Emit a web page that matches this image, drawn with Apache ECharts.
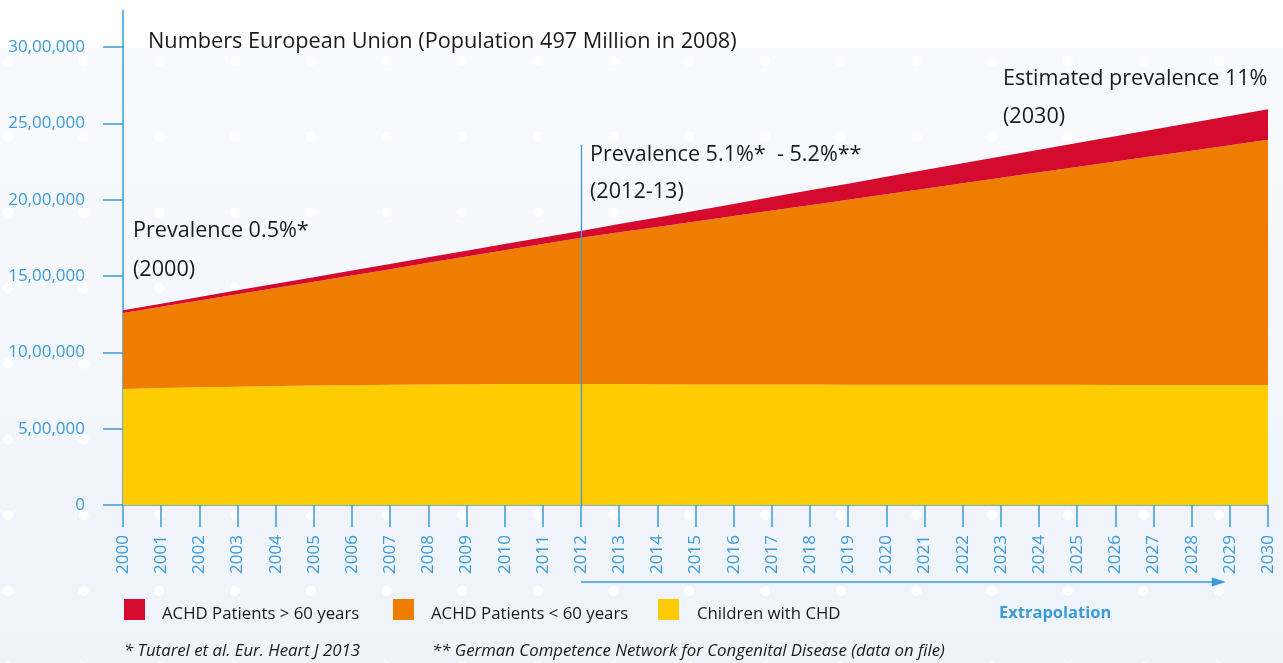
<!DOCTYPE html>
<html>
<head>
<meta charset="utf-8">
<script src="https://cdn.jsdelivr.net/npm/echarts@6/dist/echarts.min.js"></script>
<style>
html,body{margin:0;padding:0;background:#ffffff;}
#main{width:1283px;height:663px;}
</style>
</head>
<body>
<div id="main"></div>
<script>
// ---- Data ----
const years = ['2000','2001','2002','2003','2004','2005','2006','2007','2008','2009','2010',
  '2011','2012','2013','2014','2015','2016','2017','2018','2019','2020',
  '2021','2022','2023','2024','2025','2026','2027','2028','2029','2030'];

const childrenCHD = [760000,766000,771000,775000,779000,782000,785000,787000,789000,791000,792000,
  793000,793000,792000,791000,790000,790000,789000,789000,788000,788000,
  788000,787000,787000,787000,787000,786000,786000,786000,786000,786000];

const achdUnder60 = [498000,533000,569000,606000,643000,681000,719000,758000,797000,836000,876000,
  916000,957000,994000,1030000,1067000,1103000,1140000,1175000,1212000,1248000,
  1283000,1320000,1356000,1392000,1427000,1464000,1500000,1535000,1571000,1607000];

const achdOver60 = [18000,20000,23000,25000,27000,29000,32000,34000,36000,38000,41000,
  43000,45000,54000,62000,71000,79000,88000,97000,105000,114000,
  123000,131000,140000,148000,157000,166000,174000,183000,191000,200000];

const yTicks = [0, 500000, 1000000, 1500000, 2000000, 2500000, 3000000];

const seriesNames = ['ACHD Patients > 60 years', 'ACHD Patients < 60 years', 'Children with CHD'];
const markerYear = '2012';
const markerTop = 2358000;

// ---- Style ----
const BLUE = '#3a9bdc';
const RED = '#d40a2e';
const ORANGE = '#ef7d00';
const YELLOW = '#fecc00';
const FONT = '"Open Sans", "Noto Sans", sans-serif';

function indianFormat(v) {
  const s = String(Math.round(v));
  if (s.length <= 3) return s;
  const last3 = s.slice(-3);
  let rest = s.slice(0, -3);
  rest = rest.replace(/\B(?=(\d{2})+(?!\d))/g, ',');
  return rest + ',' + last3;
}

const chart = echarts.init(document.getElementById('main'), null, {renderer: 'canvas'});

// background dots (decoration)
const dots = [];
for (let r = 0; r < 9; r++) {
  for (let c = 0; c < 18; c++) {
    dots.push({
      type: 'circle', silent: true, z: -5,
      shape: {cx: 8 + c * 75.7, cy: 61 + r * 75.7, r: 5},
      style: {fill: '#ffffff'}
    });
  }
}

function textEl(txt, x, y, size, opts) {
  opts = opts || {};
  return {
    type: 'text', x: x, y: y, z: 10, silent: true,
    style: Object.assign({
      text: txt, fill: '#1a1a1a', font: (opts.style || 'normal') + ' ' + (opts.weight || 'normal') + ' ' + size + 'px ' + FONT,
      textVerticalAlign: 'middle', textAlign: 'left'
    }, opts.extra || {})
  };
}

function legendText(leftPad) {
  return {
    fontSize: 16.8, color: '#1a1a1a', fontFamily: FONT, padding: [0, 0, 0, leftPad],
    rich: {a: {fontSize: 16.8, color: '#1a1a1a', fontFamily: FONT, padding: [10, 0, 0, 0]}}
  };
}
const legendTop = 599;

const option = {
  animation: false,
  backgroundColor: '#ffffff',
  textStyle: {fontFamily: FONT},
  grid: {left: 123, right: 15, top: 47, bottom: 158, containLabel: false},
  legend: [
    {data: [seriesNames[0]], left: 124, top: legendTop, padding: 0, itemWidth: 21, itemHeight: 21, icon: 'rect',
     formatter: '{a|{name}}', textStyle: legendText(12)},
    {data: [seriesNames[1]], left: 393, top: legendTop, padding: 0, itemWidth: 21, itemHeight: 21, icon: 'rect',
     formatter: '{a|{name}}', textStyle: legendText(12)},
    {data: [seriesNames[2]], left: 658, top: legendTop, padding: 0, itemWidth: 21, itemHeight: 21, icon: 'rect',
     formatter: '{a|{name}}', textStyle: legendText(13)}
  ],
  xAxis: {
    type: 'category', data: years, boundaryGap: false,
    axisLine: {show: true, lineStyle: {color: BLUE, width: 1.5}},
    axisTick: {show: true, length: 22, interval: 0, lineStyle: {color: BLUE, width: 1.5}},
    axisLabel: {interval: 0, rotate: 90, margin: 30, color: BLUE, fontSize: 17, fontFamily: FONT},
    splitLine: {show: false}
  },
  yAxis: {
    type: 'value', min: 0, max: 3000000, interval: 500000,
    axisLine: {show: true, lineStyle: {color: BLUE, width: 1.5}},
    axisTick: {show: true, length: 20, lineStyle: {color: BLUE, width: 1.5}},
    axisLabel: {margin: 38, color: BLUE, fontSize: 17, fontFamily: FONT, formatter: indianFormat},
    splitLine: {show: false}
  },
  series: [
    {name: seriesNames[2], type: 'line', stack: 'total', data: childrenCHD, symbol: 'none',
     lineStyle: {width: 0}, itemStyle: {color: YELLOW}, areaStyle: {color: YELLOW, opacity: 1}},
    {name: seriesNames[1], type: 'line', stack: 'total', data: achdUnder60, symbol: 'none',
     lineStyle: {width: 0}, itemStyle: {color: ORANGE}, areaStyle: {color: ORANGE, opacity: 1}},
    {name: seriesNames[0], type: 'line', stack: 'total', data: achdOver60, symbol: 'none',
     lineStyle: {width: 0}, itemStyle: {color: RED}, areaStyle: {color: RED, opacity: 1},
     markLine: {silent: true, symbol: 'none', label: {show: false},
       lineStyle: {color: BLUE, width: 1.3, type: 'solid', opacity: 1},
       emphasis: {disabled: true},
       data: [[{coord: [markerYear, 0]}, {coord: [markerYear, markerTop]}]]}}
  ]
};

chart.setOption(option);

// decorations positioned via chart scales
const p2012 = chart.convertToPixel({xAxisIndex: 0, yAxisIndex: 0}, ['2012', 0]);
const xEnd = chart.convertToPixel({xAxisIndex: 0}, '2029') - 4;
const arrowY = 582;

chart.setOption({
  graphic: [
    {type: 'rect', z: -10, silent: true, shape: {x: 0, y: 48, width: 1283, height: 615},
     style: {fill: new echarts.graphic.LinearGradient(0, 0, 0, 1, [
       {offset: 0, color: '#f9fafd'}, {offset: 1, color: '#eef3fa'}])}},
    ...dots,
    {type: 'line', z: 5, silent: true, shape: {x1: 123, y1: 10, x2: 123, y2: 48},
     style: {stroke: BLUE, lineWidth: 1.5}},
    {type: 'line', z: 5, silent: true, shape: {x1: p2012[0], y1: arrowY, x2: xEnd - 10, y2: arrowY},
     style: {stroke: BLUE, lineWidth: 1.5}},
    {type: 'polygon', z: 5, silent: true, shape: {points: [[xEnd - 14, arrowY - 4.5], [xEnd, arrowY], [xEnd - 14, arrowY + 4.5]]},
     style: {fill: BLUE}},
    textEl('Numbers European Union (Population 497 Million in 2008)', 148, 42, 21.7),
    textEl('Prevalence 0.5%*', 133, 231, 21.6),
    textEl('(2000)', 133, 270, 21.6),
    textEl('Prevalence 5.1%*  - 5.2%**', 590, 155, 21.6),
    textEl('(2012-13)', 590, 192, 21.6),
    textEl('Estimated prevalence 11%', 1003, 79, 21.6),
    textEl('(2030)', 1003, 117, 21.6),
    textEl('Extrapolation', 999, 613, 16.5, {weight: 'bold', extra: {fill: BLUE}}),
    textEl('* Tutarel et al. Eur. Heart J 2013', 124, 651, 16.8, {style: 'italic'}),
    textEl('** German Competence Network for Congenital Disease (data on file)', 432, 651, 16.8, {style: 'italic'})
  ]
});
</script>
</body>
</html>
